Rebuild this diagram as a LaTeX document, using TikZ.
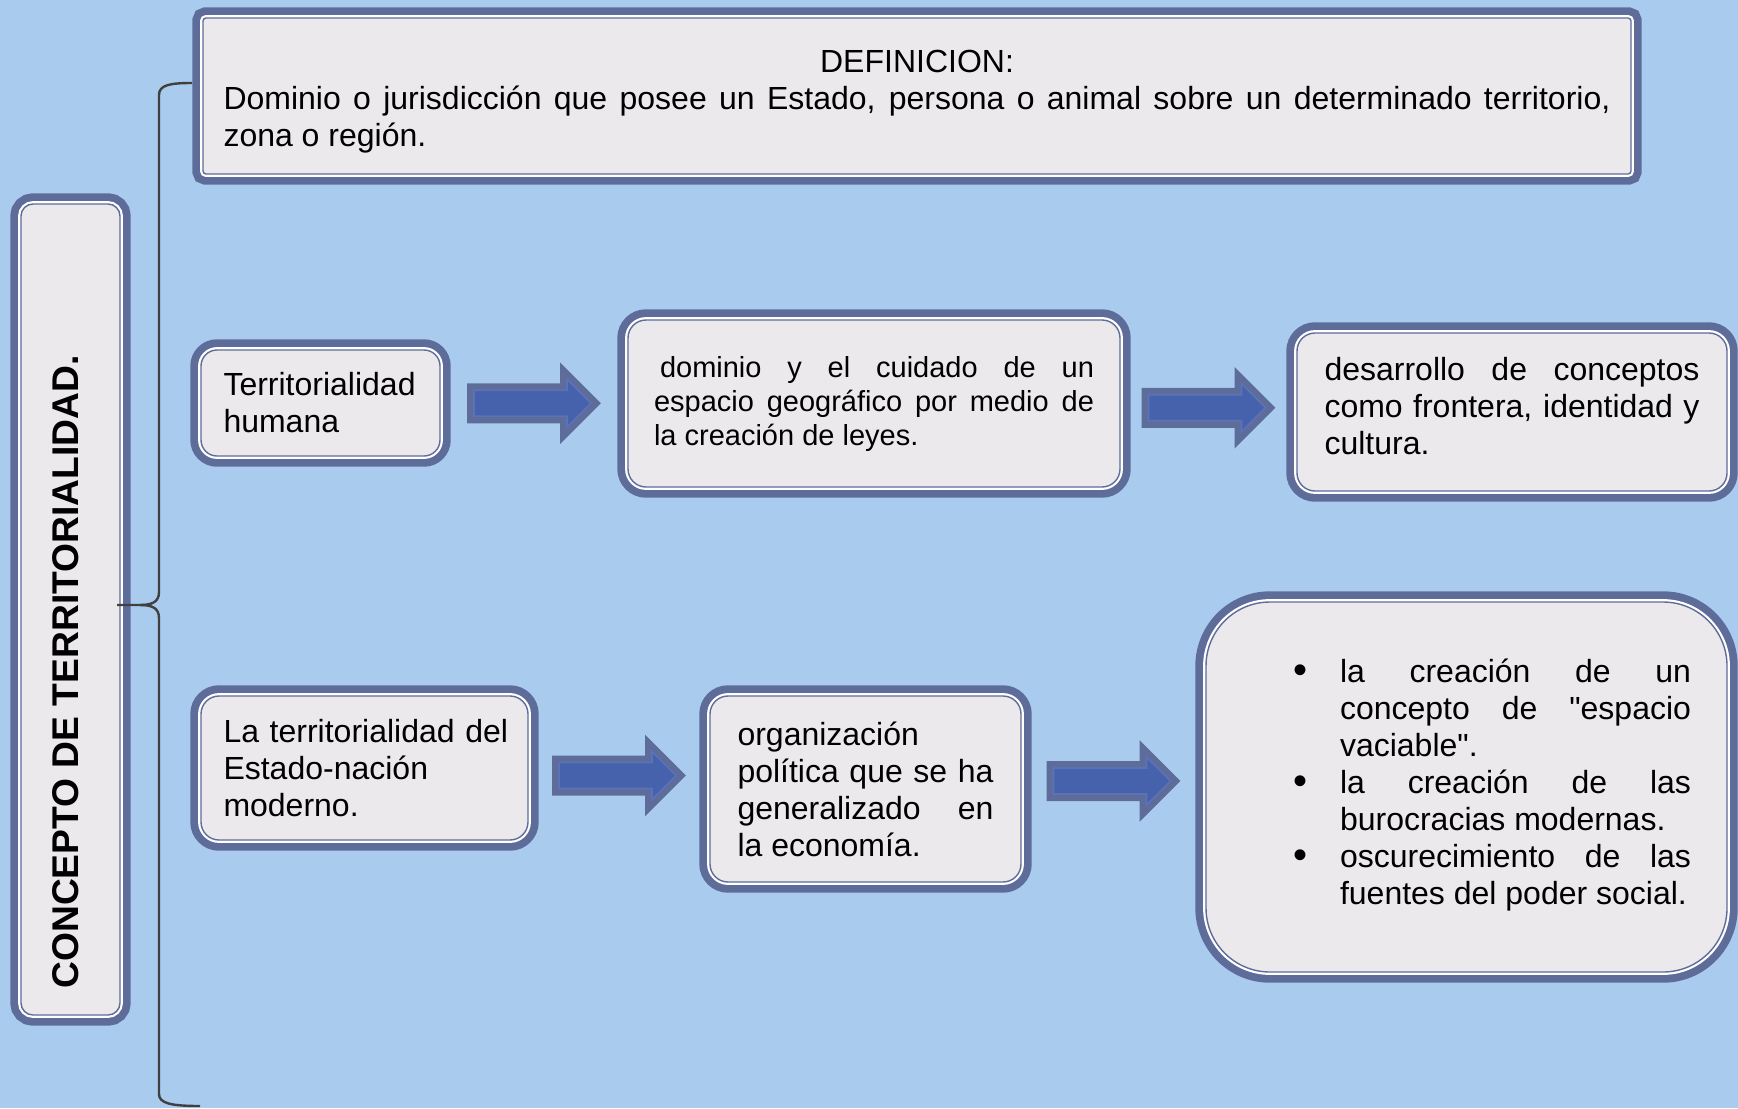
\documentclass[tikz,border=0pt]{standalone}
\usepackage{fontspec}
\setmainfont{Liberation Sans}
\usetikzlibrary{positioning, calc}

\definecolor{fondo}{HTML}{A9CBEE}
\definecolor{papel}{HTML}{EBE9EC}
\definecolor{borde}{HTML}{5E6C9A}
\definecolor{relleno}{HTML}{4762AC}
\definecolor{filete}{HTML}{5B72B6}
\definecolor{llave}{HTML}{404040}

\newcommand{\vineta}{\par\hangindent=23.5pt\hangafter=1\noindent
  \hbox to 23.5pt{\raisebox{-0.9pt}{\fontsize{20pt}{18.5pt}\selectfont\textbullet}\hss}}

\begin{document}
\begin{tikzpicture}[x=0.5pt, y=-0.5pt,
  caja/.style={draw=borde, line width=0.7pt, fill=papel, rounded corners=#1,
    preaction={draw=borde, line width=10.7pt},
    preaction={draw=white, line width=2.9pt},
    inner sep=0pt, font=\fontsize{16pt}{18.5pt}\selectfont},
  caja/.default=8pt,
  flecha/.pic={\path[fill=relleno, draw=filete, line width=0.8pt,
    preaction={draw=borde, line width=7pt}]
    (-60,-13) -- (33,-13) -- (33,-24) -- (57,0) -- (33,24) -- (33,13) -- (-60,13) -- cycle;},
  trazo/.style={draw=llave, line width=1.2pt}]

  \fill[fondo] (0,0) rectangle (1738,1108);
  \useasboundingbox (0,0) rectangle (1738,1108);

  % definicion
  \node[caja=1.5pt, minimum width=714pt, minimum height=78pt, text width=693.5pt, align=justify] (def) at (917,96)
    {\makebox[\linewidth]{\rule{0pt}{17.2pt}DEFINICION:}\par
     Dominio o jurisdicción que posee un Estado, persona o animal sobre un determinado territorio,\linebreak zona o región.};

  % concepto
  \node[caja=6pt, minimum width=49.5pt, minimum height=405.5pt] (concepto) at (70.5,609.5) {};
  \node[rotate=90, font=\fontsize{18.6pt}{20pt}\selectfont\bfseries] (titulo) at (66,672) {CONCEPTO DE TERRITORIALIDAD.};

  % primera fila
  \node[caja, minimum width=119.5pt, minimum height=53pt, text width=97pt, align=left] (th) at (320.5,403)
    {Territorialidad\\humana};
  \node[caja=9pt, minimum width=246pt, minimum height=83.5pt, text width=220pt, align=justify,
    font=\fontsize{14.5pt}{17pt}\selectfont] (dom) at (874,403.5)
    {\hspace*{3pt}dominio y el cuidado de un\linebreak espacio geográfico por medio de\linebreak la creación de leyes.};
  \node[caja=9pt, minimum width=215pt, minimum height=79pt, text width=187.5pt, align=justify] (des) at (1512,412)
    {desarrollo de conceptos\linebreak como frontera, identidad y\linebreak cultura.\rule[-6pt]{0pt}{0pt}};

  % segunda fila
  \node[caja=9pt, minimum width=163.5pt, minimum height=72pt, text width=141pt, align=left] (ter) at (364.5,768)
    {\mbox{La territorialidad del}\\Estado-nación\\moderno.};
  \node[caja=9pt, minimum width=155.5pt, minimum height=93pt, text width=128pt, align=justify] (org) at (865.5,789)
    {organización\\política que se ha\linebreak generalizado en\linebreak la economía.};
  \node[caja=32pt, minimum width=260.5pt, minimum height=185pt, text width=224.5pt, align=justify] (bul) at (1466.5,787)
    {\leftskip=25.5pt
     \vineta la creación de un\linebreak concepto de \textquotedbl espacio\linebreak vaciable\textquotedbl.
     \vineta la creación de las\linebreak burocracias modernas.
     \vineta oscurecimiento de las\linebreak fuentes del poder social.\rule[-12.4pt]{0pt}{0pt}\par};

  % flechas
  \pic at ($(th.east)!.5!(dom.west)$) {flecha};
  \pic at ($(dom.east)!.5!(des.west)$) {flecha};
  \pic at ($(ter.east)!.5!(org.west)+(0,-3)$) {flecha};
  \pic at ($(org.east)!.5!(bul.west)+(0,-7)$) {flecha};

  % llave
  \coordinate (arriba) at (192,83);
  \coordinate (punta) at (117,605);
  \coordinate (abajo) at (200,1106);
  \draw[trazo] (arriba) .. controls (170,83) and (159,85) .. (159,95) -- (159,592)
    .. controls (159,602) and (152,605) .. (140,605) -- (punta);
  \draw[trazo] (140,605) .. controls (152,605) and (159,608) .. (159,618) -- (159,1094)
    .. controls (159,1103) and (170,1106) .. (abajo);
\end{tikzpicture}
\end{document}
